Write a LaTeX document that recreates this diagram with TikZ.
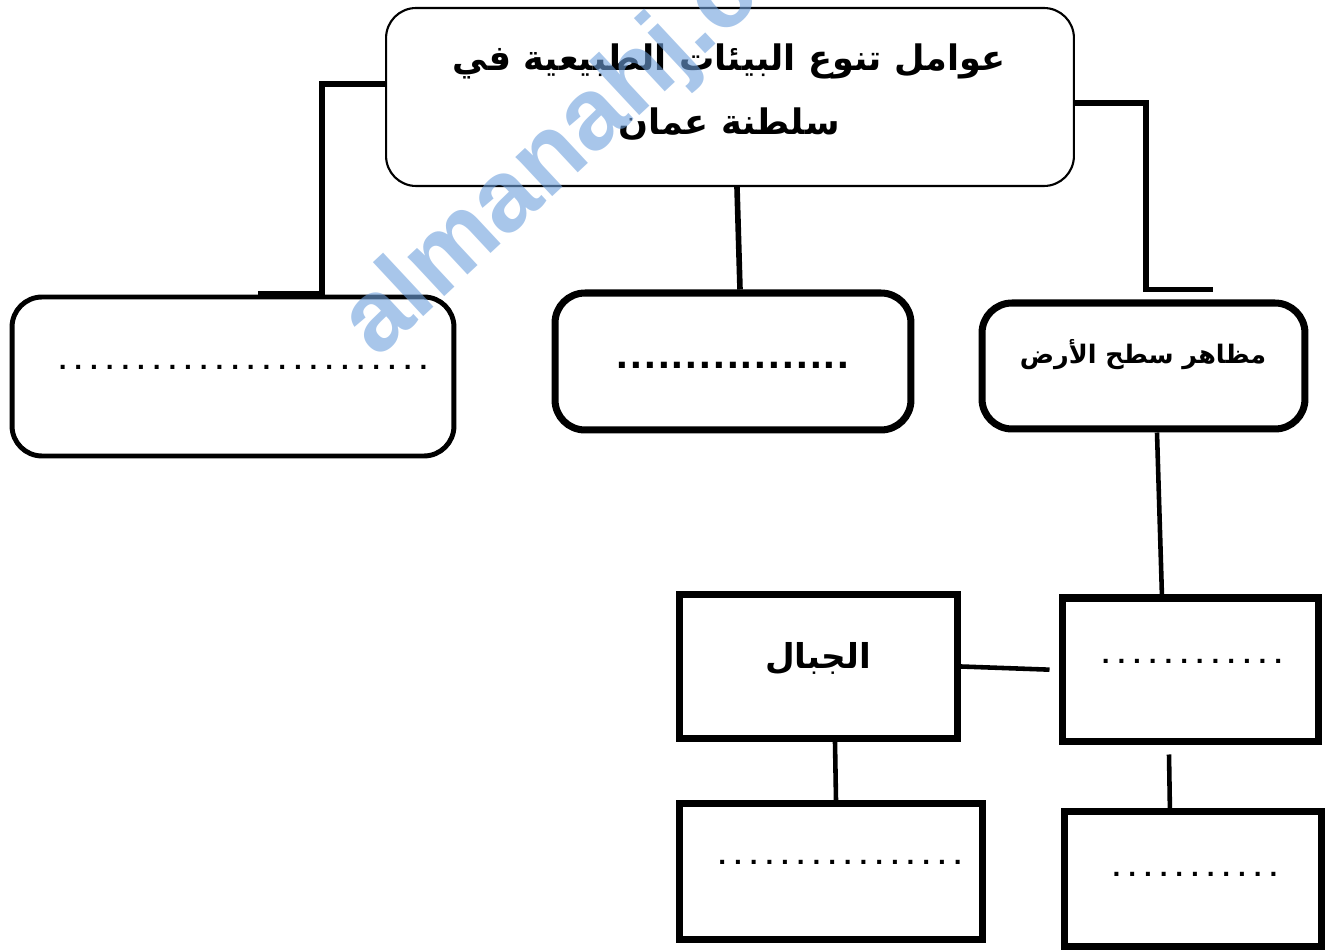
\documentclass[tikz,border=0pt]{standalone}
\usepackage{fontspec}
\setmainfont{Liberation Sans}
\newfontfamily\arabicfont[Script=Arabic]{DejaVu Sans}
\TeXXeTstate=1
\usetikzlibrary{positioning,calc}

\definecolor{markblue}{RGB}{110,160,220}

\begin{document}
\begin{tikzpicture}[x=0.02cm, y=-0.02cm,
    roundbox/.style={rectangle, draw, rounded corners=0.6cm, line width=4pt, inner sep=0pt},
    sharpbox/.style={rectangle, draw, line width=4pt, inner sep=0pt},
    link/.style={line width=3.2pt},
    dotrow/.style={inner sep=0pt, font=\bfseries\fontsize{16}{18}\selectfont\addfontfeatures{LetterSpace=28}},
    artext/.style={inner sep=0pt, align=center, font=\arabicfont\bfseries}
]
\useasboundingbox (0,0) rectangle (1330,952);

% Title box
\node[roundbox, line width=1.2pt, minimum width=13.76cm, minimum height=3.56cm] (title) at (730,97) {};
\node[artext, font=\arabicfont\bfseries\fontsize{20}{36}\selectfont] (titletxt) at (729,92)
    {\beginR عوامل تنوع البيئات الطبيعية في\endR\\ \beginR سلطنة عمان\endR};

% First row
\node[roundbox, line width=2.8pt, minimum width=8.84cm, minimum height=3.18cm] (leftbox) at (233,376.5) {};
\node[roundbox, minimum width=7.12cm, minimum height=2.74cm] (midbox) at (733,361.5) {};
\node[roundbox, minimum width=6.46cm, minimum height=2.52cm] (rightbox) at (1143.5,366) {};

\node[dotrow] (leftdots) at (243,367) {........................};
\node[dotrow, font=\bfseries\fontsize{24}{26}\selectfont\addfontfeatures{LetterSpace=5}] (middots) at (733,365) {.................};
\node[artext, font=\arabicfont\bfseries\fontsize{14.5}{18}\selectfont] (righttxt) at (1143,355) {\beginR مظاهر سطح الأرض\endR};

% Second and third rows
\node[sharpbox, minimum width=5.14cm, minimum height=2.88cm] (surf) at (1190.5,670) {};
\node[sharpbox, minimum width=5.56cm, minimum height=2.88cm] (mount) at (818.5,666.5) {};
\node[sharpbox, minimum width=6.06cm, minimum height=2.72cm] (low1) at (831,871.5) {};
\node[sharpbox, minimum width=5.14cm, minimum height=2.7cm] (low2) at (1193,879) {};

\node[artext, font=\arabicfont\bfseries\fontsize{19.5}{24}\selectfont] (mounttxt) at (818,659) {\beginR الجبال\endR};
\node[dotrow] (surfdots) at (1192,661) {............};
\node[dotrow] (low1dots) at (840,862) {................};
\node[dotrow] (low2dots) at (1195,874) {...........};

% Connectors
\coordinate (ljoint) at ([xshift=1.78cm]leftbox.north);
\coordinate (lstub) at ([xshift=0.5cm]leftbox.north);
\draw[link] ([yshift=0.26cm]title.west) -| (ljoint);
\draw[line width=4.5pt] (lstub) -- (ljoint);

\draw[link] ([xshift=0.14cm]title.south) -- ([xshift=0.14cm]midbox.north);

\coordinate (rjoint) at ([xshift=0.05cm, yshift=0.2cm]rightbox.north);
\coordinate (rstub) at ([xshift=1.39cm, yshift=0.2cm]rightbox.north);
\draw[link] ([yshift=-0.12cm]title.east) -| (rjoint) -- (rstub);

\draw[line width=2.6pt] ([xshift=0.27cm]rightbox.south) -- ([xshift=-0.57cm, yshift=-0.06cm]surf.north);
\draw[line width=2.6pt, shorten >=0.18cm] (mount.east) -- (surf.west);
\draw[line width=2.6pt] ([xshift=0.33cm]mount.south) -- ([xshift=0.1cm]low1.north);
\draw[line width=2.6pt] ([xshift=-0.43cm, yshift=-0.18cm]surf.south) -- ([xshift=-0.46cm, yshift=-0.13cm]low2.north);

% Watermark
\begin{scope}
\clip (0,0) rectangle (1330,952);
\node[anchor=base west, rotate=43, inner sep=0pt, text=markblue, text opacity=0.6,
      font=\bfseries\fontsize{58}{64}\selectfont] (mark) at (377,360) {almanahj.com};
\end{scope}

\end{tikzpicture}
\end{document}
